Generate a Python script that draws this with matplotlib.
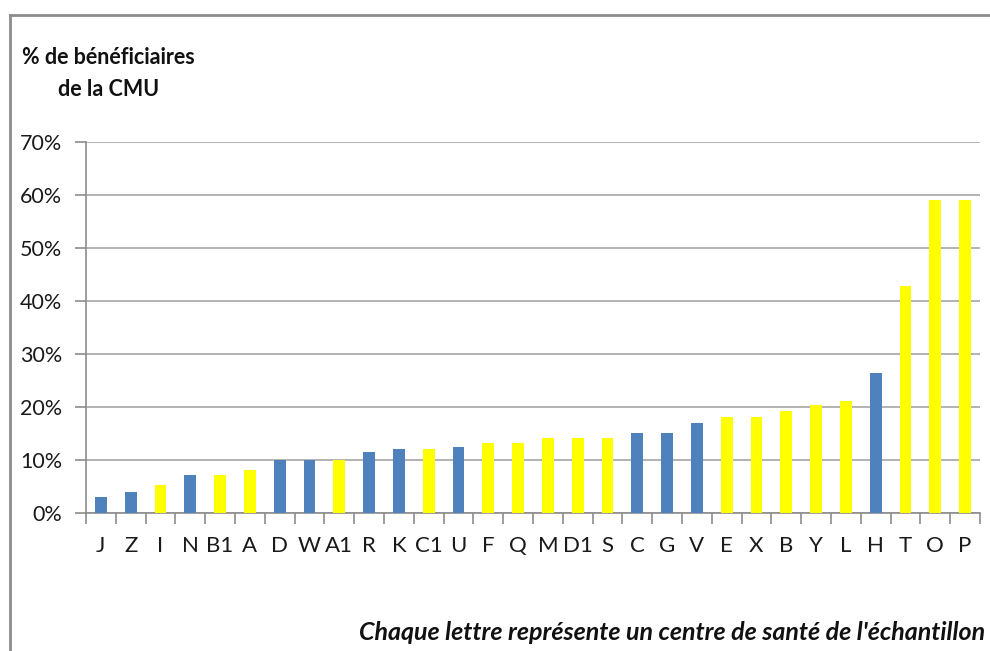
import matplotlib
matplotlib.use("Agg")
import matplotlib.pyplot as plt
import numpy as np

plt.rcParams['font.family'] = ['Lato', 'DejaVu Sans']

centres = ['J', 'Z', 'I', 'N', 'B1', 'A', 'D', 'W', 'A1', 'R', 'K', 'C1', 'U', 'F', 'Q',
           'M', 'D1', 'S', 'C', 'G', 'V', 'E', 'X', 'B', 'Y', 'L', 'H', 'T', 'O', 'P']
pct_cmu = [3.0, 4.0, 5.2, 7.1, 7.1, 8.1, 10.0, 10.0, 10.0, 11.4, 12.1, 12.1, 12.4, 13.1, 13.1,
           14.1, 14.1, 14.1, 15.1, 15.1, 17.0, 18.0, 18.0, 19.2, 20.4, 21.1, 26.3, 42.8, 59.0, 59.0]
groupe = ['b', 'b', 'y', 'b', 'y', 'y', 'b', 'b', 'y', 'b', 'b', 'y', 'b', 'y', 'y',
          'y', 'y', 'y', 'b', 'b', 'b', 'y', 'y', 'y', 'y', 'y', 'b', 'y', 'y', 'y']

couleurs = {'b': '#4F81BD', 'y': '#FFFF00'}

fig = plt.figure(figsize=(9.9, 6.51), dpi=100)
ax = fig.add_axes([86 / 990, 1 - 512.7 / 651, (980 - 86) / 990, (512.7 - 141.7) / 651])

x = np.arange(len(centres))
vals = np.array(pct_cmu) / 100
ax.bar(x, vals, width=0.4, color=[couleurs[g] for g in groupe], zorder=3)

ax.set_xlim(-0.5, len(centres) - 0.5)
ax.set_ylim(0, 0.70)
ax.set_yticks(np.arange(0, 0.71, 0.10))
ax.set_yticklabels([f'{int(round(v * 100))}%' for v in np.arange(0, 0.71, 0.10)])
ax.yaxis.grid(True, color='#A6A6A6', linewidth=1.2, zorder=0)

ax.set_xticks(x)
ax.set_xticklabels(centres)
ax.set_xticks(np.arange(-0.5, len(centres)), minor=True)
ax.tick_params(axis='x', which='major', length=0, pad=17, labelsize=16, colors='#1a1a1a')
ax.tick_params(axis='x', which='minor', length=8, width=1.2, color='#8C8C8C')
ax.tick_params(axis='y', length=8, width=1.2, color='#8C8C8C', pad=9, labelsize=15.5,
               labelcolor='#1a1a1a')

for s in ['top', 'right']:
    ax.spines[s].set_visible(False)
for s in ['left', 'bottom']:
    ax.spines[s].set_color('#8C8C8C')
    ax.spines[s].set_linewidth(1.2)

# titre de l'axe et note
fig.text(22 / 990, 1 - 57 / 651, '% de bénéficiaires', fontsize=15.5, fontweight='bold',
         ha='left', va='center', color='#111111')
fig.text(58 / 990, 1 - 90 / 651, 'de la CMU', fontsize=15.5, fontweight='bold',
         ha='left', va='center', color='#111111')
fig.text(985 / 990, 1 - 632 / 651, "Chaque lettre représente un centre de santé de l'échantillon",
         fontsize=18, fontweight='bold', fontstyle='italic', ha='right', va='center',
         color='#111111')

# cadre du graphique
fig.add_artist(plt.Line2D([10 / 990, 10 / 990], [0, 1 - 15 / 651], color='#8C8C8C',
                          linewidth=2, transform=fig.transFigure))
fig.add_artist(plt.Line2D([10 / 990, 1], [1 - 15 / 651, 1 - 15 / 651], color='#8C8C8C',
                          linewidth=2, transform=fig.transFigure))

plt.savefig('out.png', dpi=100, facecolor='white')
plt.close()
